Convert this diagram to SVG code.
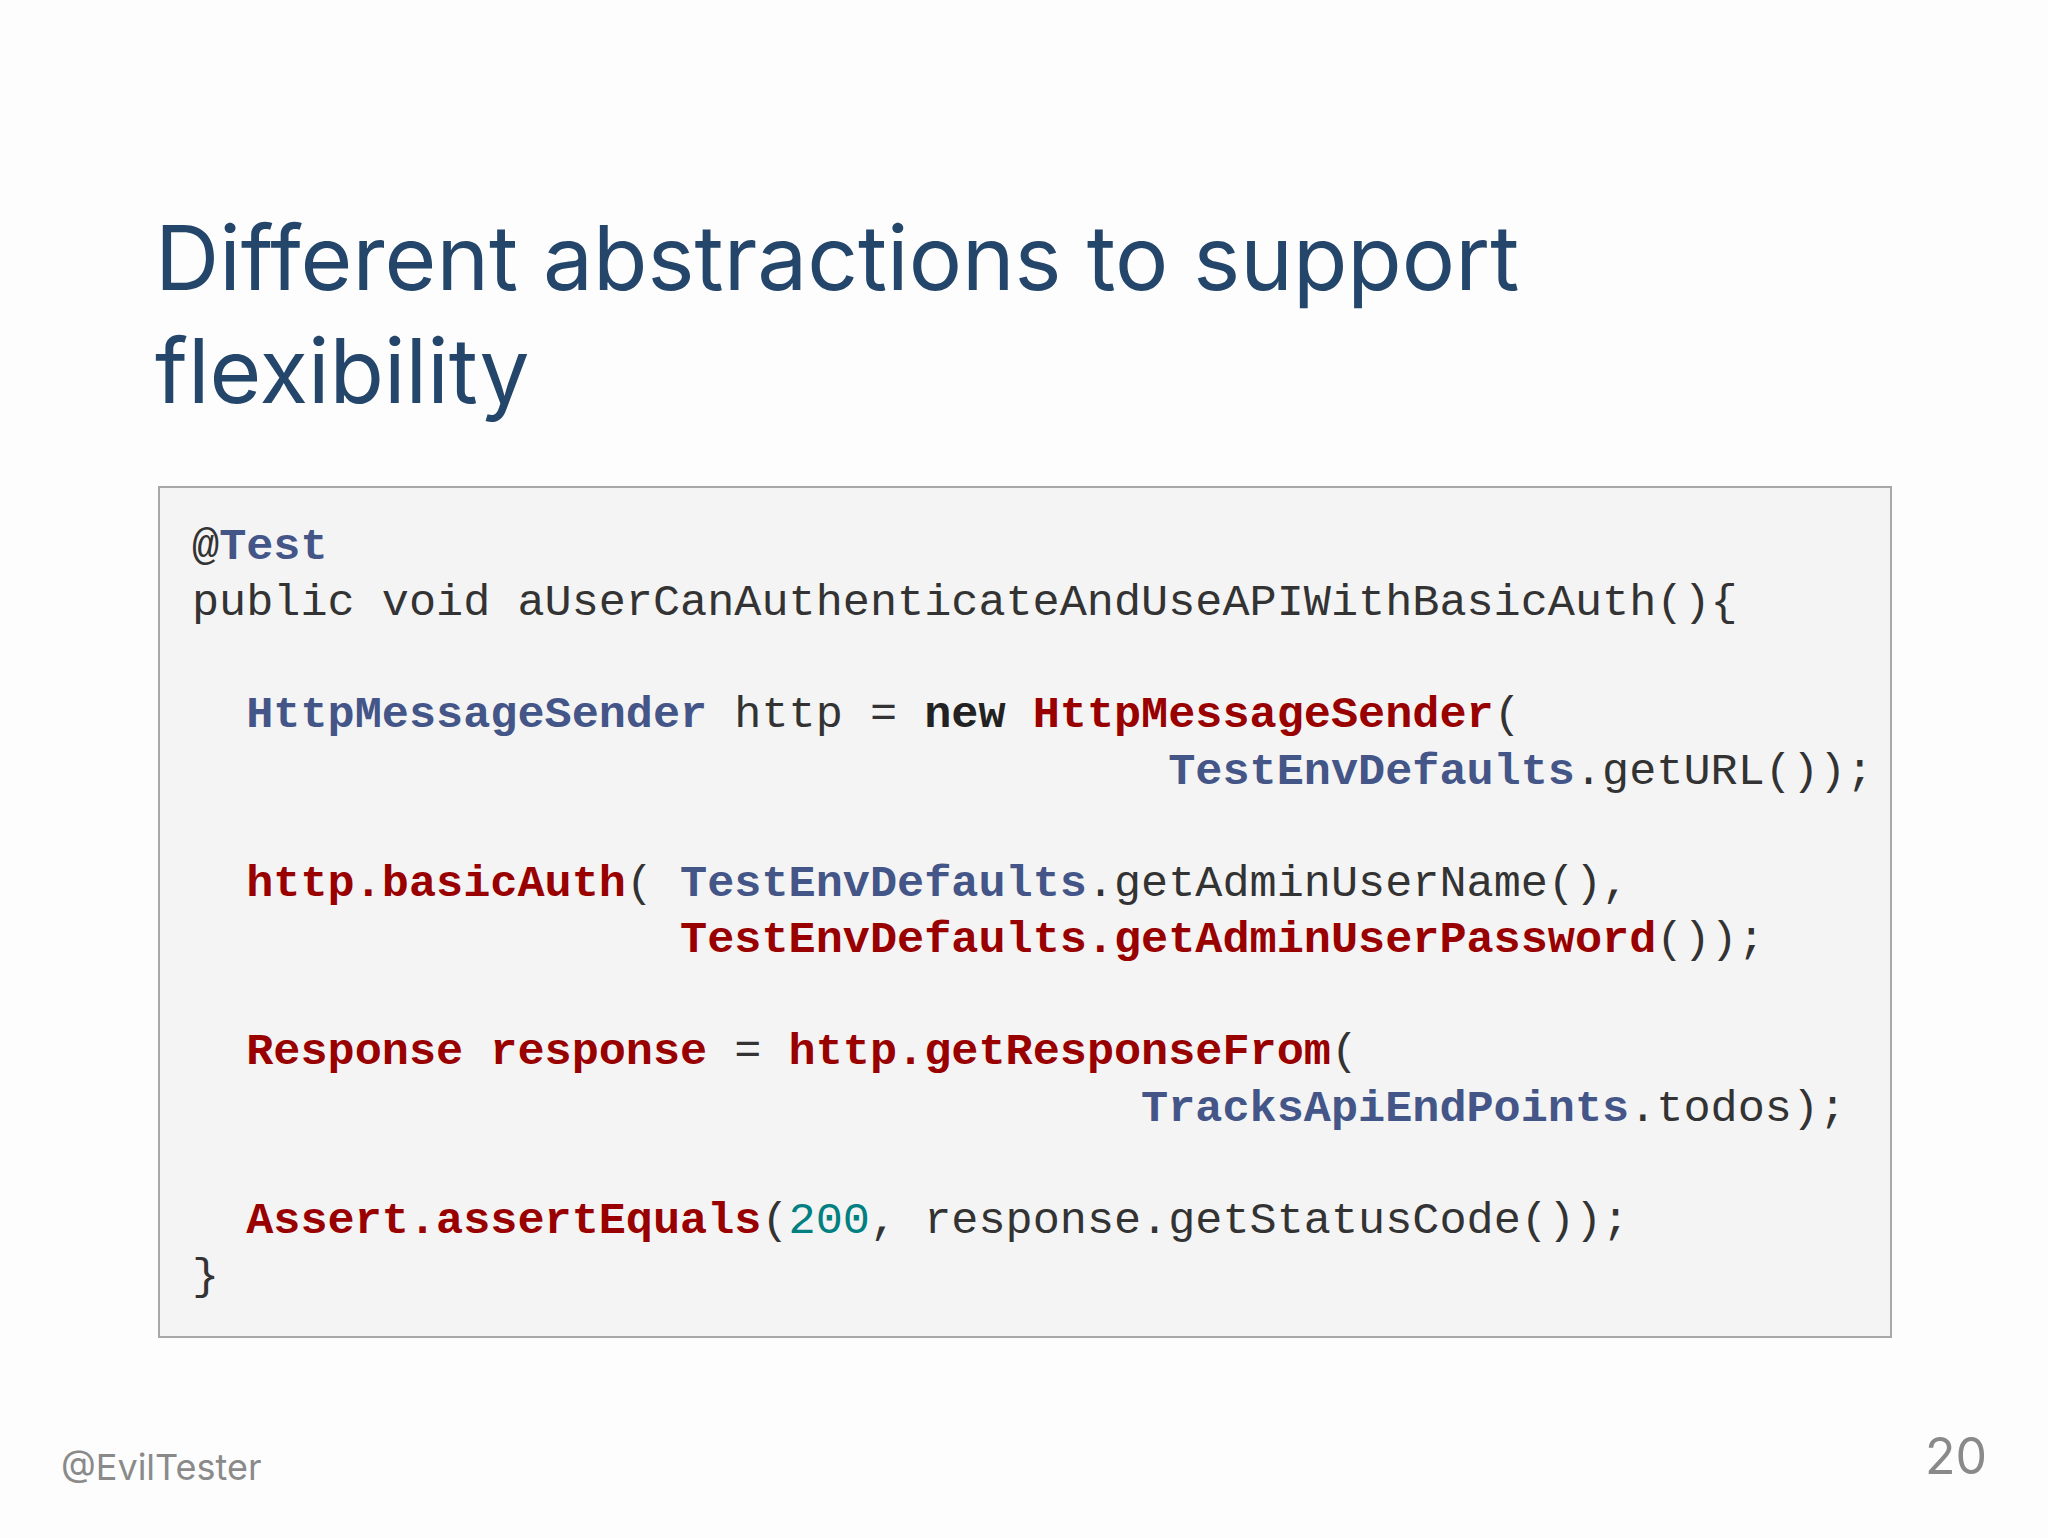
<svg xmlns="http://www.w3.org/2000/svg" width="2048" height="1538" viewBox="0 0 2048 1538">
<style>
.t{font-family:Inter,"Liberation Sans",sans-serif;fill:#24466b;font-size:89px}
.c{font-family:"Liberation Mono","DejaVu Sans Mono",monospace;font-size:45.2px;fill:#333}
.b{fill:#445588;font-weight:bold}
.r{fill:#990000;font-weight:bold}
.k{fill:#222;font-weight:bold}
.n{fill:#008080}
</style>
<rect width="2048" height="1538" fill="#fdfdfd"/>
<g id="title">
<text class="t" x="155" y="290">Different abstractions to support</text>
<text class="t" x="155" y="403">flexibility</text>
</g>
<g id="code">
<rect x="159" y="487" width="1732" height="850" fill="#f4f4f5" stroke="#a8a8a8" stroke-width="2"/>
<text class="c" xml:space="preserve">
<tspan x="192" y="559">@<tspan class="b">Test</tspan></tspan>
<tspan x="192" y="615">public void aUserCanAuthenticateAndUseAPIWithBasicAuth(){</tspan>
<tspan x="192" y="727">  <tspan class="b">HttpMessageSender</tspan> http = <tspan class="k">new</tspan> <tspan class="r">HttpMessageSender</tspan>(</tspan>
<tspan x="192" y="784">                                    <tspan class="b">TestEnvDefaults</tspan>.getURL());</tspan>
<tspan x="192" y="896">  <tspan class="r">http.basicAuth</tspan>( <tspan class="b">TestEnvDefaults</tspan>.getAdminUserName(),</tspan>
<tspan x="192" y="952">                  <tspan class="r">TestEnvDefaults.getAdminUserPassword</tspan>());</tspan>
<tspan x="192" y="1064">  <tspan class="r">Response response</tspan> = <tspan class="r">http.getResponseFrom</tspan>(</tspan>
<tspan x="192" y="1121">                                   <tspan class="b">TracksApiEndPoints</tspan>.todos);</tspan>
<tspan x="192" y="1233">  <tspan class="r">Assert.assertEquals</tspan>(<tspan class="n">200</tspan>, response.getStatusCode());</tspan>
<tspan x="192" y="1289">}</tspan>
</text>
</g>
<g id="footer">
<text x="61" y="1480" font-family="Inter,'Liberation Sans',sans-serif" font-size="36" fill="#8a8a8a">@EvilTester</text>
<text x="1987" y="1474" text-anchor="end" font-family="Inter,'Liberation Sans',sans-serif" font-size="50" fill="#8a8a8a">20</text>
</g>
</svg>
